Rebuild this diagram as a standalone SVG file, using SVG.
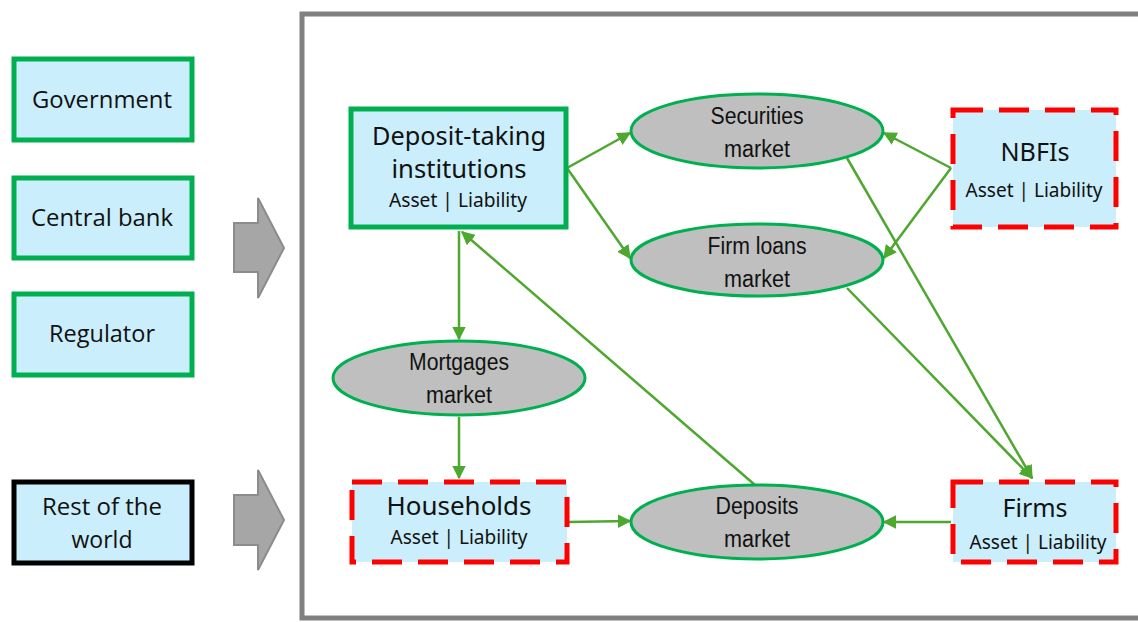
<svg xmlns="http://www.w3.org/2000/svg" width="1138" height="622" viewBox="0 0 1138 622">
<defs>
<marker id="ah" viewBox="0 0 10 10" refX="9" refY="5" markerWidth="5.5" markerHeight="5.5" orient="auto" markerUnits="strokeWidth">
<path d="M0,0 L10,5 L0,10 z" fill="#4EA72E"/>
</marker>
<style>
.gbox{fill:#CAEEFB;stroke:#00B050;stroke-width:5}
.kbox{fill:#CAEEFB;stroke:#000;stroke-width:5}
.rbox{fill:#CAEEFB;stroke:#FF0000;stroke-width:5;stroke-dasharray:30 16}
.ell{fill:#BFBFBF;stroke:#00B050;stroke-width:3}
.conn line{stroke:#4EA72E;stroke-width:2.5;marker-end:url(#ah)}
.lt{font-family:"Open Sans",sans-serif;font-size:23px;fill:#111;text-anchor:middle}
.nt{font-family:"Noto Sans","Open Sans",sans-serif;font-size:26px;fill:#111;text-anchor:middle}
.st{font-family:"Noto Sans","Open Sans",sans-serif;font-size:19px;fill:#111;text-anchor:middle}
.et{font-family:"Liberation Sans",Arial,sans-serif;font-size:23px;fill:#111;text-anchor:middle}
.blk{fill:#A6A6A6;stroke:#8C8C8C;stroke-width:2}
</style>
</defs>
<rect width="1138" height="622" fill="#fff"/>
<rect x="302" y="14" width="900" height="604" fill="none" stroke="#808080" stroke-width="5"/>
<path class="blk" d="M234,223 H258 V198 L284,248 L258,298 V272 H234 Z"/>
<path class="blk" d="M234,495 H258 V470 L284,520 L258,570 V545 H234 Z"/>
<g id="government"><rect class="gbox" x="14" y="59" width="178" height="81"/><text class="lt" x="102" y="108" textLength="140" lengthAdjust="spacingAndGlyphs">Government</text></g>
<g id="central-bank"><rect class="gbox" x="14" y="178" width="178" height="80"/><text class="lt" x="102" y="226" textLength="142" lengthAdjust="spacingAndGlyphs">Central bank</text></g>
<g id="regulator"><rect class="gbox" x="14" y="294" width="178" height="81"/><text class="lt" x="102" y="342" textLength="106" lengthAdjust="spacingAndGlyphs">Regulator</text></g>
<g id="rest-of-world"><rect class="kbox" x="14" y="482" width="178" height="81"/><text class="lt" x="102" y="515" textLength="120" lengthAdjust="spacingAndGlyphs">Rest of the</text><text class="lt" x="102" y="548">world</text></g>
<g class="conn" id="connectors">
<line x1="567" y1="168" x2="630" y2="133"/>
<line x1="567" y1="168" x2="630" y2="258"/>
<line x1="951" y1="168" x2="884" y2="133"/>
<line x1="951" y1="168" x2="884" y2="258"/>
<line x1="847" y1="158" x2="1032" y2="478"/>
<line x1="847" y1="288" x2="1032" y2="478"/>
<line x1="459" y1="231" x2="459" y2="339"/>
<line x1="459" y1="417" x2="459" y2="478"/>
<line x1="568" y1="522" x2="630" y2="521"/>
<line x1="951" y1="522" x2="884" y2="522"/>
<line x1="755" y1="485" x2="462" y2="232"/>
</g>
<g id="deposit-taking"><rect class="gbox" x="351" y="109" width="215" height="118"/><text class="nt" x="459" y="145" textLength="174" lengthAdjust="spacingAndGlyphs">Deposit-taking</text><text class="nt" x="459" y="178" textLength="135" lengthAdjust="spacingAndGlyphs">institutions</text><text class="st" x="458" y="207" textLength="138" lengthAdjust="spacingAndGlyphs">Asset | Liability</text></g>
<g id="securities-market"><ellipse class="ell" cx="757" cy="131" rx="126" ry="37"/><text class="et" x="757" y="124" textLength="93" lengthAdjust="spacingAndGlyphs">Securities</text><text class="et" x="757" y="157" textLength="66" lengthAdjust="spacingAndGlyphs">market</text></g>
<g id="firm-loans-market"><ellipse class="ell" cx="757" cy="260" rx="126" ry="36"/><text class="et" x="757" y="254" textLength="99" lengthAdjust="spacingAndGlyphs">Firm loans</text><text class="et" x="757" y="287" textLength="66" lengthAdjust="spacingAndGlyphs">market</text></g>
<g id="nbfis"><rect class="rbox" x="953" y="110" width="163" height="117"/><text class="nt" x="1035" y="161" textLength="69" lengthAdjust="spacingAndGlyphs">NBFIs</text><text class="st" x="1034" y="197" textLength="137" lengthAdjust="spacingAndGlyphs">Asset | Liability</text></g>
<g id="mortgages-market"><ellipse class="ell" cx="459" cy="378" rx="126" ry="37"/><text class="et" x="459" y="370" textLength="100" lengthAdjust="spacingAndGlyphs">Mortgages</text><text class="et" x="459" y="403" textLength="66" lengthAdjust="spacingAndGlyphs">market</text></g>
<g id="households"><rect class="rbox" x="352" y="482" width="215" height="80"/><text class="nt" x="459" y="515" textLength="145" lengthAdjust="spacingAndGlyphs">Households</text><text class="st" x="459" y="544" textLength="137" lengthAdjust="spacingAndGlyphs">Asset | Liability</text></g>
<g id="deposits-market"><ellipse class="ell" cx="757" cy="522" rx="126" ry="37"/><text class="et" x="757" y="514" textLength="83" lengthAdjust="spacingAndGlyphs">Deposits</text><text class="et" x="757" y="547" textLength="66" lengthAdjust="spacingAndGlyphs">market</text></g>
<g id="firms"><rect class="rbox" x="953" y="482" width="163" height="80"/><text class="nt" x="1035" y="517" textLength="65" lengthAdjust="spacingAndGlyphs">Firms</text><text class="st" x="1038" y="549" textLength="137" lengthAdjust="spacingAndGlyphs">Asset | Liability</text></g>
</svg>
